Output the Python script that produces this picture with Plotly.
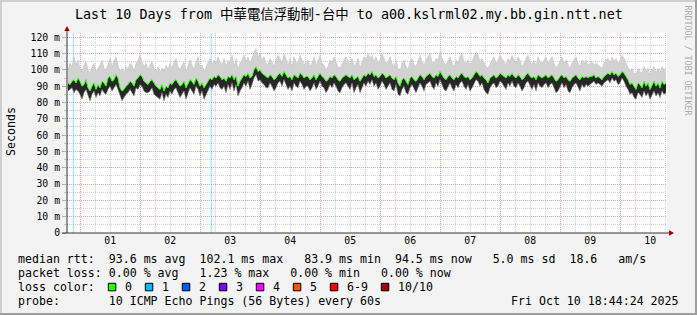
import pandas as pd
import plotly.graph_objects as go

# ---------------- data ----------------
START = "2025-09-30 18:44:24"
END = "2025-10-10 18:44:24"
STEP_MIN = 48  # minutes per sampled column

median_ms = [
    92, 91, 93, 94, 92, 95, 93, 90, 91, 94, 89, 87, 90, 92, 88, 91, 89, 93, 92, 90,
    95, 96, 93, 94, 97, 95, 89, 87, 88, 90, 91, 93, 92, 90, 94, 95, 97, 96, 93, 92,
    91, 93, 94, 92, 90, 89, 88, 91, 87, 90, 89, 92, 91, 93, 94, 92, 90, 91, 93, 89,
    92, 94, 93, 91, 95, 93, 90, 92, 89, 91, 93, 95, 94, 96, 95, 97, 96, 94, 95, 93,
    96, 95, 97, 94, 96, 90, 93, 95, 97, 96, 98, 95, 96, 100, 102, 99, 100, 98, 97, 96,
    95, 97, 96, 94, 95, 97, 98, 96, 99, 97, 95, 96, 94, 97, 96, 95, 98, 97, 95, 96,
    96, 94, 95, 97, 94, 96, 98, 96, 95, 93, 94, 96, 95, 97, 96, 94, 93, 95, 96, 97,
    96, 95, 97, 94, 95, 96, 93, 95, 97, 96, 98, 97, 99, 96, 97, 95, 96, 98, 97, 95,
    96, 97, 95, 94, 96, 92, 90, 94, 95, 93, 91, 95, 96, 94, 93, 95, 97, 96, 94, 96,
    97, 98, 96, 95, 97, 96, 99, 97, 95, 94, 96, 97, 95, 94, 96, 95, 97, 98, 96, 95,
    96, 94, 95, 97, 99, 98, 96, 97, 95, 94, 92, 95, 96, 97, 95, 96, 98, 97, 96, 95,
    97, 96, 98, 96, 95, 97, 96, 94, 95, 97, 98, 96, 95, 96, 94, 97, 96, 95, 96, 97,
    95, 96, 97, 95, 93, 94, 96, 97, 95, 96, 94, 93, 95, 96, 97, 95, 94, 96, 95, 96,
    95, 96, 96, 97, 95, 96, 95, 94, 96, 97, 98, 97, 99, 97, 98, 96, 97, 99, 98, 96,
    94, 91, 92, 90, 88, 92, 91, 89, 93, 90, 92, 88, 91, 93, 90, 92, 89, 93, 91, 92,
]
smoke_hi_ms = [
    100, 104, 102, 108, 103, 106, 101, 99, 103, 105, 100, 98, 102, 104, 99, 101, 103, 106, 101, 100,
    104, 107, 102, 105, 108, 103, 99, 101, 98, 102, 100, 104, 103, 99, 104, 106, 109, 105, 102, 104,
    100, 103, 105, 101, 99, 102, 98, 101, 99, 103, 100, 104, 101, 105, 107, 102, 100, 103, 105, 99,
    102, 106, 103, 100, 105, 108, 101, 103, 99, 102, 104, 107, 103, 106, 104, 108, 105, 103, 107, 102,
    106, 104, 109, 102, 107, 100, 104, 106, 109, 105, 108, 104, 107, 111, 113, 108, 110, 106, 108, 104,
    103, 107, 105, 102, 106, 109, 107, 104, 110, 106, 103, 107, 102, 108, 105, 104, 109, 106, 103, 105,
    106, 102, 104, 108, 103, 105, 109, 104, 103, 100, 102, 106, 104, 108, 105, 102, 101, 104, 106, 108,
    105, 103, 107, 102, 104, 107, 101, 105, 108, 106, 110, 107, 109, 105, 108, 104, 106, 110, 107, 104,
    105, 108, 104, 102, 106, 101, 99, 104, 106, 102, 100, 105, 107, 103, 102, 106, 109, 105, 103, 106,
    108, 110, 105, 104, 107, 106, 111, 107, 104, 103, 106, 108, 104, 102, 106, 104, 108, 110, 105, 104,
    106, 103, 105, 108, 111, 109, 105, 107, 104, 102, 101, 104, 106, 108, 104, 106, 109, 107, 105, 103,
    107, 105, 109, 106, 104, 108, 106, 102, 104, 107, 109, 105, 103, 106, 102, 108, 105, 104, 106, 108,
    104, 106, 108, 104, 101, 103, 106, 108, 104, 106, 103, 101, 104, 106, 108, 104, 102, 106, 104, 106,
    103, 104, 105, 103, 104, 103, 102, 101, 104, 106, 107, 104, 108, 105, 107, 104, 106, 109, 107, 104,
    102, 99, 101, 98, 97, 101, 99, 98, 102, 99, 101, 97, 100, 102, 98, 101, 98, 102, 100, 101,
]
smoke_lo_ms = [
    87, 88, 89, 86, 88, 87, 85, 82, 86, 88, 84, 81, 85, 87, 83, 86, 84, 88, 86, 85,
    88, 90, 87, 89, 91, 88, 84, 81, 83, 85, 86, 88, 86, 84, 89, 88, 91, 90, 87, 86,
    86, 87, 89, 85, 84, 83, 82, 86, 81, 85, 83, 87, 85, 88, 89, 86, 83, 85, 87, 82,
    86, 89, 87, 85, 90, 88, 84, 87, 82, 85, 88, 90, 88, 91, 90, 92, 89, 88, 90, 86,
    91, 88, 92, 87, 91, 84, 87, 89, 92, 90, 93, 88, 91, 95, 97, 93, 94, 92, 91, 89,
    89, 92, 90, 87, 89, 92, 93, 90, 94, 91, 88, 90, 87, 92, 90, 89, 93, 91, 88, 90,
    90, 87, 89, 92, 88, 90, 93, 90, 89, 86, 88, 91, 89, 92, 90, 87, 86, 89, 91, 92,
    90, 88, 92, 86, 89, 91, 86, 89, 92, 90, 93, 91, 94, 90, 92, 88, 90, 93, 91, 88,
    90, 92, 88, 87, 91, 85, 84, 88, 90, 86, 85, 89, 91, 88, 86, 89, 92, 90, 87, 91,
    92, 93, 90, 88, 92, 90, 94, 91, 88, 87, 90, 92, 89, 87, 91, 89, 92, 93, 90, 88,
    91, 87, 89, 92, 94, 93, 90, 92, 88, 86, 85, 89, 91, 92, 89, 90, 93, 92, 90, 88,
    92, 90, 93, 90, 89, 92, 90, 87, 89, 92, 93, 90, 88, 91, 87, 92, 90, 89, 91, 92,
    89, 91, 92, 89, 86, 87, 90, 92, 89, 91, 87, 86, 89, 91, 92, 89, 87, 91, 89, 91,
    90, 91, 92, 93, 91, 92, 91, 90, 92, 93, 94, 92, 95, 93, 94, 91, 92, 95, 93, 90,
    88, 85, 86, 83, 82, 86, 85, 83, 87, 84, 86, 82, 85, 87, 84, 86, 83, 87, 85, 86,
]
loss_times = ["2025-09-30 21:15:00", "2025-10-03 04:25:00"]

day_ticks = ["2025-10-%02d" % d for d in range(1, 11)]
day_labels = ["01", "02", "03", "04", "05", "06", "07", "08", "09", "10"]
y_ticks = [0, 10, 20, 30, 40, 50, 60, 70, 80, 90, 100, 110, 120]
y_labels = ["0", "10 m", "20 m", "30 m", "40 m", "50 m", "60 m", "70 m",
            "80 m", "90 m", "100 m", "110 m", "120 m"]
Y_MAX = 122.6

loss_names = ["0", "1", "2", "3", "4", "5", "6-9", "10/10"]
loss_colors = ["#26ff00", "#00b8ff", "#0059ff", "#7e00ff", "#ff00ff",
               "#ff5500", "#ff0000", "#a10000"]

legend_lines = [
    "median rtt:  93.6 ms avg  102.1 ms max   83.9 ms min  94.5 ms now   5.0 ms sd  18.6   am/s",
    "packet loss: 0.00 % avg   1.23 % max   0.00 % min   0.00 % now",
    "loss color:",
    "probe:       10 ICMP Echo Pings (56 Bytes) every 60s",
]
title_text = "Last 10 Days from 中華電信浮動制-台中 to a00.kslrml02.my.bb.gin.ntt.net"
date_text = "Fri Oct 10 18:44:24 2025"

# ---------------- geometry helpers (pixel -> paper) ----------------
W, H = 697, 315
PL, PR, PT, PB = 67, 667, 33, 233


def px(x):
    return (x - PL) / (PR - PL)


def py(y):
    return (PB - y) / (PB - PT)


MONO = "DejaVu Sans Mono, Noto Sans CJK TC, monospace"
NB = "\u00a0"

times = pd.date_range(pd.Timestamp(START) + pd.Timedelta(minutes=STEP_MIN / 2),
                      periods=len(median_ms), freq=f"{STEP_MIN}min")

fig = go.Figure()

# loss background stripes
lx, ly = [], []
for t in loss_times:
    lx += [t, t, None]
    ly += [0, Y_MAX, None]
fig.add_trace(go.Scatter(x=lx, y=ly, mode="lines",
                         line=dict(color="rgba(0,184,255,0.45)", width=1),
                         hoverinfo="skip", showlegend=False))

# smoke: dark part below median
fig.add_trace(go.Scatter(x=times, y=smoke_lo_ms, mode="lines",
                         line=dict(width=0.6, color="#7a7a7a"), hoverinfo="skip",
                         showlegend=False))
fig.add_trace(go.Scatter(x=times, y=median_ms, mode="lines", fill="tonexty",
                         fillcolor="#262626", line=dict(width=0, color="#262626"),
                         hoverinfo="skip", showlegend=False))
# smoke: light part above median
fig.add_trace(go.Scatter(x=times, y=smoke_hi_ms, mode="lines", fill="tonexty",
                         fillcolor="#d2d2d2", line=dict(width=0.6, color="#c2c2c2"),
                         hoverinfo="skip", showlegend=False))
# median line
fig.add_trace(go.Scatter(x=times, y=median_ms, mode="lines",
                         line=dict(width=1, color="#26ff00"),
                         hoverinfo="skip", showlegend=False))

fig.update_layout(
    width=W, height=H,
    margin=dict(l=PL, r=W - PR, t=PT, b=H - PB, pad=0),
    paper_bgcolor="#f3f3f3", plot_bgcolor="#ffffff",
    font=dict(family=MONO, size=10, color="#000"),
    showlegend=False, hovermode=False,
)
fig.update_xaxes(
    range=[START, END], type="date",
    tickmode="array", tickvals=day_ticks, ticktext=day_labels,
    ticklabelshift=30, ticks="", tickfont=dict(size=9.8, color="#000"),
    showgrid=True, gridcolor="#e3a3a3", griddash="1px,1px", gridwidth=1,
    minor=dict(dtick=6 * 3600 * 1000, tick0="2025-10-01 00:00:00",
               showgrid=True, gridcolor="#cfcfcf", griddash="1px,1px", gridwidth=1),
    showline=False, zeroline=False, fixedrange=True,
)
fig.update_yaxes(
    range=[0, Y_MAX], tickmode="array", tickvals=y_ticks, ticktext=y_labels,
    ticks="outside", ticklen=4, tickcolor="#b0b0b0", tickwidth=1,
    tickfont=dict(size=9.8, color="#000"),
    showgrid=True, gridcolor="#e3a3a3", griddash="1px,1px", gridwidth=1,
    minor=dict(dtick=5, showgrid=True, gridcolor="#cfcfcf", griddash="1px,1px",
               gridwidth=1, ticks="outside", ticklen=2, tickcolor="#c0c0c0"),
    showline=False, zeroline=False, fixedrange=True,
)

shapes = []
# axes lines and arrows
shapes.append(dict(type="line", xref="paper", yref="paper",
                   x0=px(67), x1=px(67), y0=py(233), y1=py(30),
                   line=dict(color="#333", width=1)))
shapes.append(dict(type="line", xref="paper", yref="paper",
                   x0=px(62), x1=px(670), y0=py(233), y1=py(233),
                   line=dict(color="#333", width=1)))
shapes.append(dict(type="path", xref="paper", yref="paper",
                   path=f"M {px(67)} {py(26)} L {px(64.3)} {py(31)} L {px(69.7)} {py(31)} Z",
                   fillcolor="#a10000", line=dict(width=0)))
shapes.append(dict(type="path", xref="paper", yref="paper",
                   path=f"M {px(674)} {py(233)} L {px(669)} {py(230.3)} L {px(669)} {py(235.7)} Z",
                   fillcolor="#a10000", line=dict(width=0)))
# frame shading
shapes.append(dict(type="line", xref="paper", yref="paper",
                   x0=px(0), x1=px(697), y0=py(314), y1=py(314),
                   line=dict(color="#9e9e9e", width=2)))
shapes.append(dict(type="line", xref="paper", yref="paper",
                   x0=px(696), x1=px(696), y0=py(0), y1=py(315),
                   line=dict(color="#9e9e9e", width=2)))
shapes.append(dict(type="line", xref="paper", yref="paper",
                   x0=px(0), x1=px(695), y0=py(1), y1=py(1),
                   line=dict(color="#cfcfcf", width=2)))
shapes.append(dict(type="line", xref="paper", yref="paper",
                   x0=px(1), x1=px(1), y0=py(0), y1=py(313),
                   line=dict(color="#cfcfcf", width=2)))

annotations = []
annotations.append(dict(text=title_text, x=px(348.5), y=py(15), xref="paper",
                        yref="paper", xanchor="center", yanchor="middle",
                        showarrow=False, font=dict(family=MONO, size=13.4, color="#000")))
annotations.append(dict(text="Seconds", x=px(11), y=py(132), xref="paper",
                        yref="paper", xanchor="center", yanchor="middle",
                        textangle=-90, showarrow=False,
                        font=dict(family=MONO, size=11.6, color="#000")))
annotations.append(dict(text="RRDTOOL / TOBI OETIKER", x=px(687.5), y=py(60),
                        xref="paper", yref="paper", xanchor="center",
                        yanchor="middle", textangle=90, showarrow=False,
                        font=dict(family=MONO, size=8.3, color="#aaaaaa")))
line_y = [259, 273.3, 287.3, 301.3]
for txt, yy in zip(legend_lines, line_y):
    annotations.append(dict(text=txt.replace(" ", NB), x=px(16), y=py(yy),
                            xref="paper", yref="paper", xanchor="left",
                            yanchor="middle", showarrow=False,
                            font=dict(family=MONO, size=11.6, color="#000")))
annotations.append(dict(text=date_text.replace(" ", NB), x=px(681), y=py(301.3),
                        xref="paper", yref="paper", xanchor="right",
                        yanchor="middle", showarrow=False,
                        font=dict(family=MONO, size=11.6, color="#000")))

# loss colour legend swatches
bx = 108.3
for name, col in zip(loss_names, loss_colors):
    shapes.append(dict(type="rect", xref="paper", yref="paper",
                       x0=px(bx), x1=px(bx + 7.5), y0=py(290.8), y1=py(283.3),
                       fillcolor=col, line=dict(color="#000", width=1)))
    annotations.append(dict(text=name, x=px(bx + 15), y=py(287.3), xref="paper",
                            yref="paper", xanchor="left", yanchor="middle",
                            showarrow=False,
                            font=dict(family=MONO, size=11.6, color="#000")))
    bx += 15 + 7 * len(name) + 15

fig.update_layout(shapes=shapes, annotations=annotations)
fig.write_html("out.html", config={"displayModeBar": False})
